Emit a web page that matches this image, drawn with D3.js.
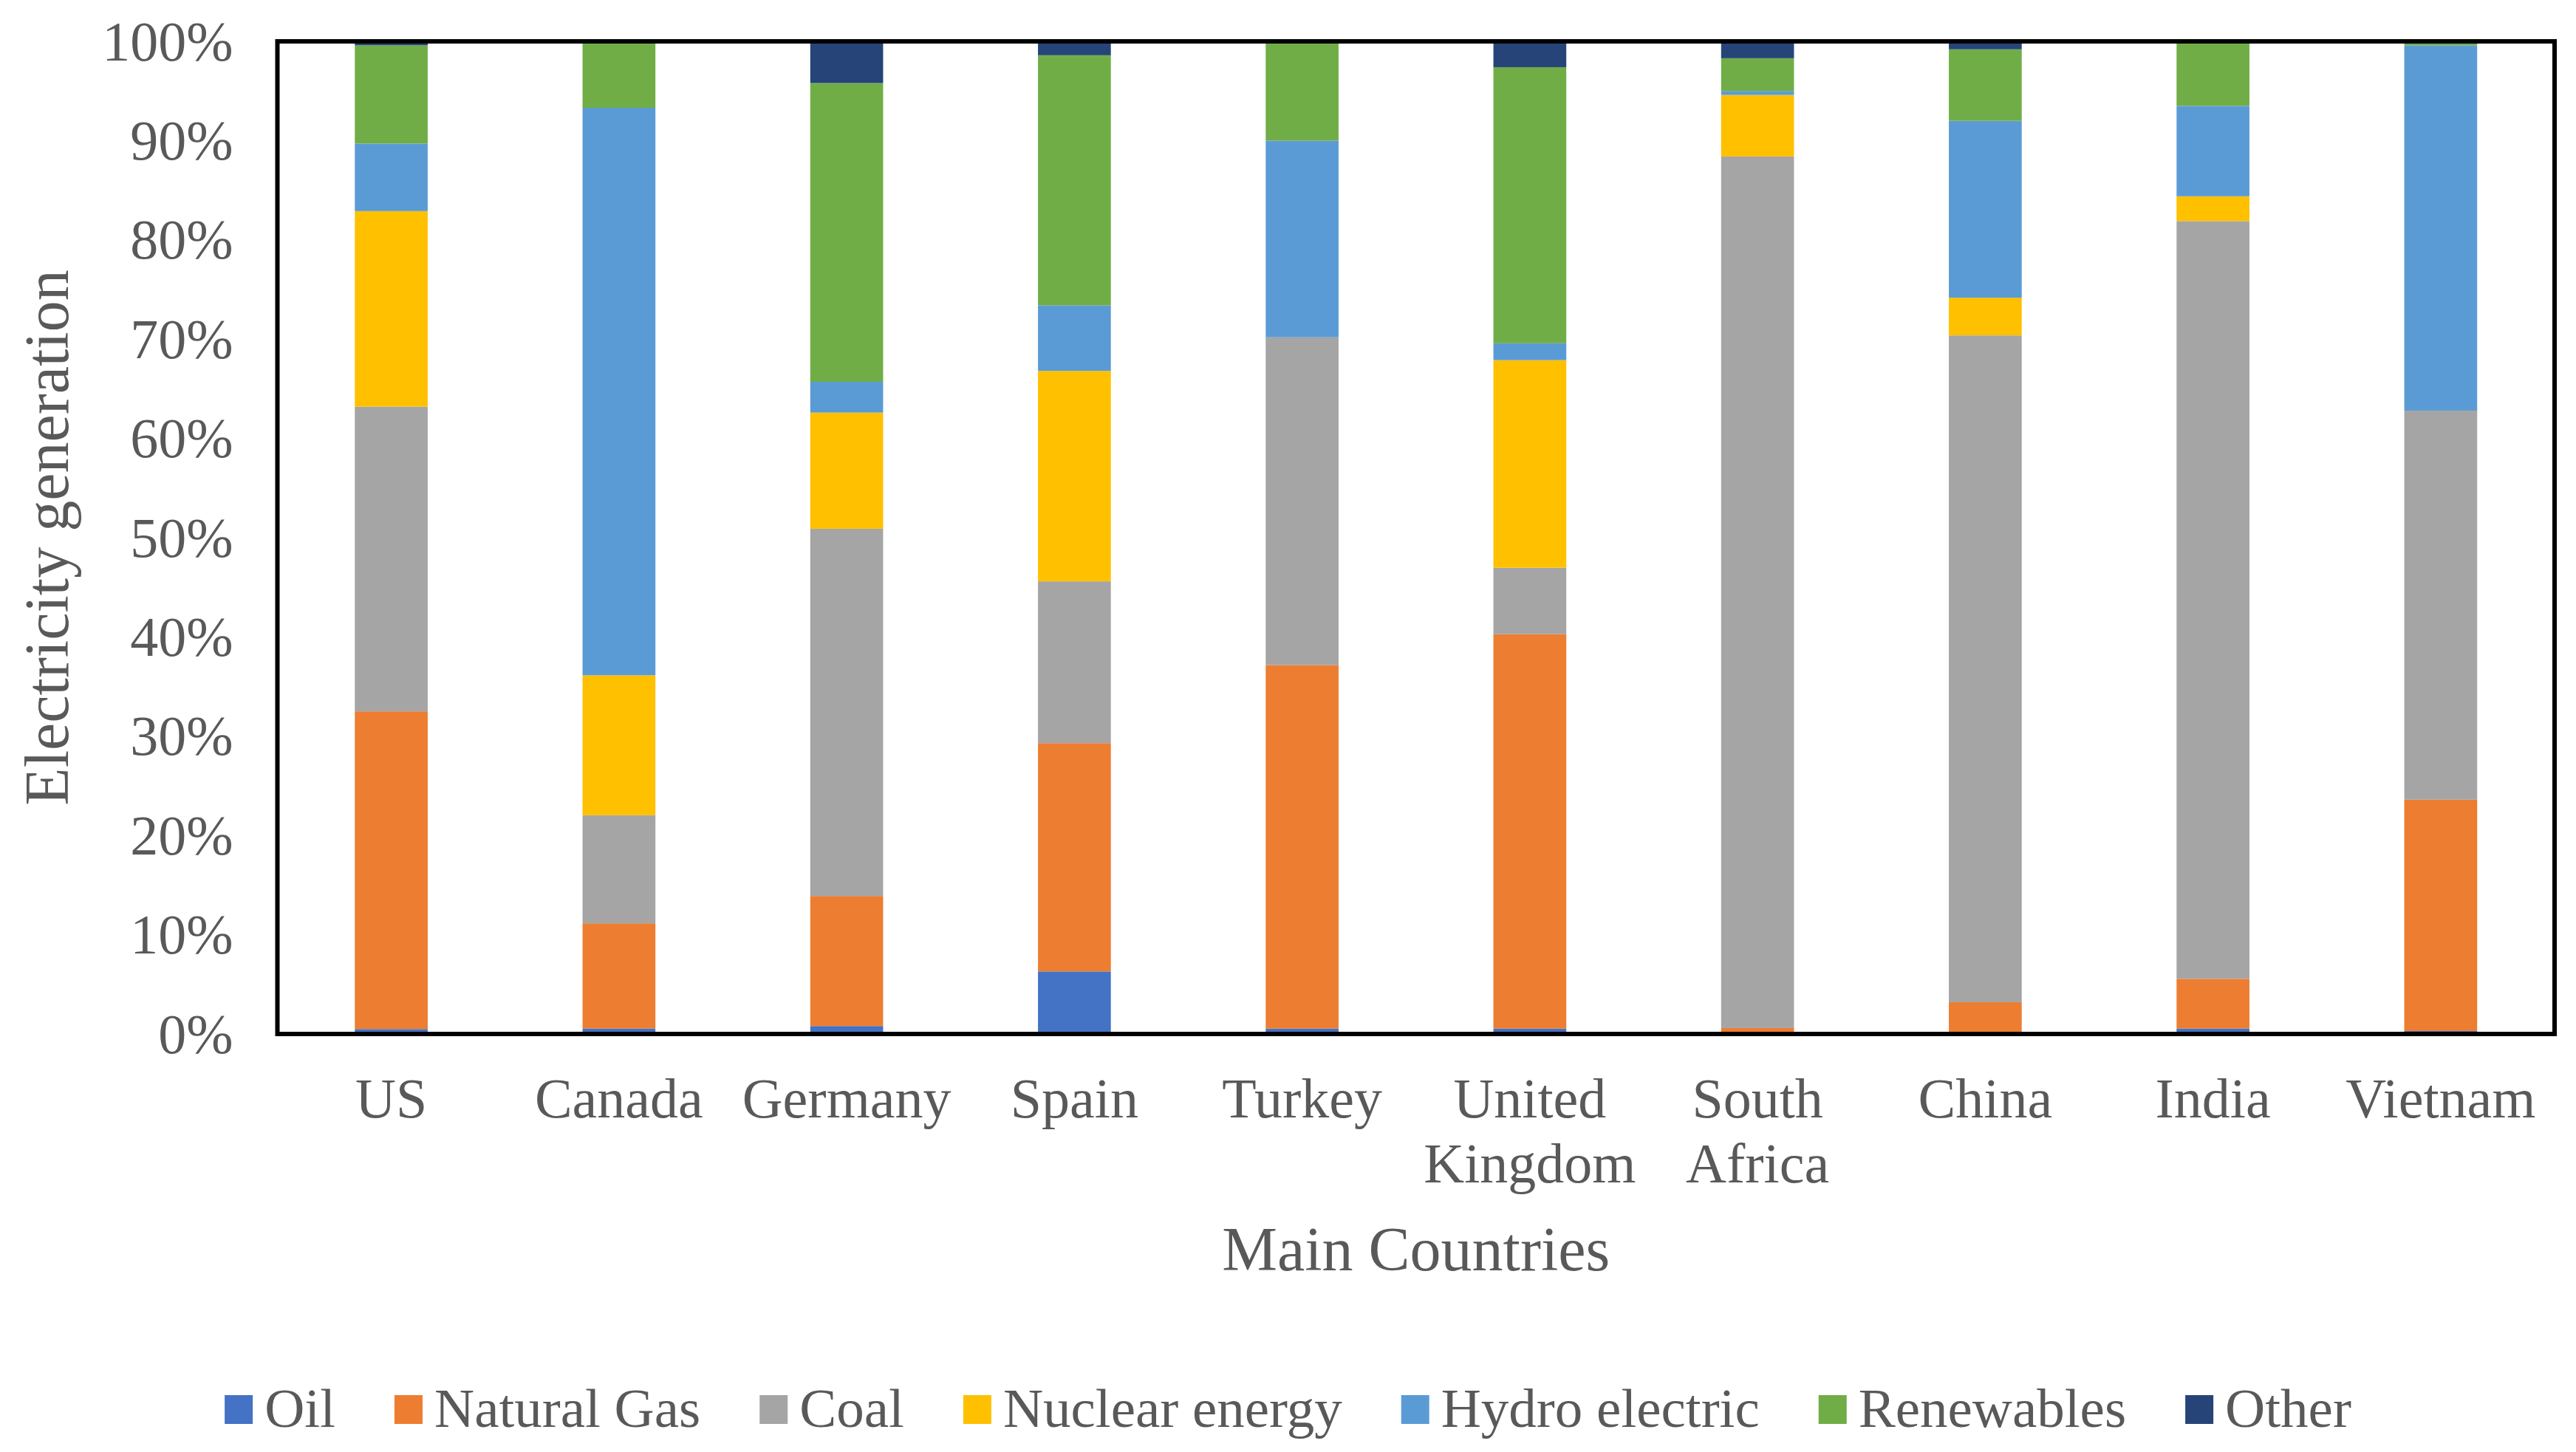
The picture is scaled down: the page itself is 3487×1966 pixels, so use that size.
<!DOCTYPE html>
<html>
<head>
<meta charset="utf-8">
<script src="https://cdn.jsdelivr.net/npm/d3@7"></script>
<style>
  body { margin: 0; background: #fff; }
  text { font-family: "Liberation Serif", "Times New Roman", serif; fill: #595959; }
</style>
</head>
<body>
<div id="chart"></div>
<script>
// categories and series (share of electricity generation, %)
var countries = ["US", "Canada", "Germany", "Spain", "Turkey", "United Kingdom", "South Africa", "China", "India", "Vietnam"];
var sources = ["Oil", "Natural Gas", "Coal", "Nuclear energy", "Hydro electric", "Renewables", "Other"];
var oil      = [0.5, 0.55, 0.8, 6.3, 0.55, 0.55, 0, 0, 0.55, 0.3];
var gas      = [32.0, 10.6, 13.1, 23.0, 36.6, 39.7, 0.6, 3.2, 5.0, 23.3];
var coal     = [30.7, 10.9, 37.0, 16.3, 33.0, 6.7, 87.8, 67.1, 76.3, 39.2];
var nuclear  = [19.7, 14.1, 11.7, 21.2, 0, 20.9, 6.2, 3.8, 2.5, 0];
var hydro    = [6.8, 57.2, 3.1, 6.6, 19.8, 1.7, 0.4, 17.8, 9.1, 36.8];
var renew    = [9.9, 6.6, 30.1, 25.2, 9.9, 27.8, 3.3, 7.2, 6.4, 0.4];
var other    = [0.4, 0.1, 4.2, 1.4, 0.1, 2.6, 1.7, 0.8, 0.1, 0];
var yTicks   = [0, 0.1, 0.2, 0.3, 0.4, 0.5, 0.6, 0.7, 0.8, 0.9, 1];

var colors = ["#4472C4", "#ED7D31", "#A5A5A5", "#FFC000", "#5B9BD5", "#70AD47", "#264478"];
var seriesVals = [oil, gas, coal, nuclear, hydro, renew, other];

var width = 3487, height = 1966;
var plot = {left: 375.5, right: 3458, top: 56, bottom: 1400};

var svg = d3.select("#chart").append("svg")
    .attr("width", width)
    .attr("height", height);

// build rows for d3.stack
var rows = countries.map(function(c, i) {
    var r = {country: c};
    sources.forEach(function(s, j) { r[s] = seriesVals[j][i]; });
    return r;
});

var stacked = d3.stack().keys(sources).offset(d3.stackOffsetExpand)(rows);

var x = d3.scaleBand()
    .domain(countries)
    .range([plot.left, plot.right])
    .paddingInner(0.68)
    .paddingOuter(0.34);

var y = d3.scaleLinear()
    .domain([0, 1])
    .range([plot.bottom, plot.top]);

// bars
svg.append("g").selectAll("g")
    .data(stacked)
    .enter().append("g")
    .attr("fill", function(d, i) { return colors[i]; })
    .selectAll("rect")
    .data(function(d) { return d; })
    .enter().append("rect")
    .attr("x", function(d) { return x(d.data.country); })
    .attr("width", x.bandwidth())
    .attr("y", function(d) { return y(d[1]); })
    .attr("height", function(d) { return Math.max(0, y(d[0]) - y(d[1])); });

// plot border
svg.append("rect")
    .attr("x", plot.left)
    .attr("y", plot.top)
    .attr("width", plot.right - plot.left)
    .attr("height", plot.bottom - plot.top)
    .attr("fill", "none")
    .attr("stroke", "#000")
    .attr("stroke-width", 6);

// y axis labels
var yAxis = d3.axisLeft(y)
    .tickValues(yTicks)
    .tickSize(0)
    .tickPadding(60)
    .tickFormat(d3.format(".0%"));

var gy = svg.append("g")
    .attr("transform", "translate(" + plot.left + ",0)")
    .call(yAxis);
gy.select(".domain").remove();
gy.selectAll("text")
    .attr("font-size", 76)
    .attr("font-family", "Liberation Serif")
    .attr("fill", "#595959")
    .attr("dy", "0.33em");

// x axis labels (wrapped)
var gx = svg.append("g");
countries.forEach(function(c) {
    var words = c.split(" ");
    var t = gx.append("text")
        .attr("text-anchor", "middle")
        .attr("font-size", 76)
        .attr("x", x(c) + x.bandwidth() / 2)
        .attr("y", 1513);
    words.forEach(function(w, k) {
        t.append("tspan")
            .attr("x", x(c) + x.bandwidth() / 2)
            .attr("dy", k === 0 ? 0 : 88)
            .text(w);
    });
});

// axis titles
svg.append("text")
    .attr("text-anchor", "middle")
    .attr("font-size", 84)
    .attr("x", (plot.left + plot.right) / 2)
    .attr("y", 1720)
    .text("Main Countries");

svg.append("text")
    .attr("text-anchor", "middle")
    .attr("font-size", 84)
    .attr("transform", "translate(92," + ((plot.top + plot.bottom) / 2) + ") rotate(-90)")
    .text("Electricity generation");

// legend
var legend = svg.append("g");
var lx = 0, gap = 80;
sources.forEach(function(s, i) {
    var item = legend.append("g").attr("transform", "translate(" + lx + ",0)");
    item.append("rect")
        .attr("x", 0)
        .attr("y", 1889)
        .attr("width", 38)
        .attr("height", 39)
        .attr("fill", colors[i]);
    var t = item.append("text")
        .attr("x", 54)
        .attr("y", 1932)
        .attr("font-size", 75)
        .text(s);
    lx += 54 + t.node().getComputedTextLength() + gap;
});
var legendW = lx - gap;
legend.attr("transform", "translate(" + (width / 2 - legendW / 2) + ",0)");
</script>
</body>
</html>
